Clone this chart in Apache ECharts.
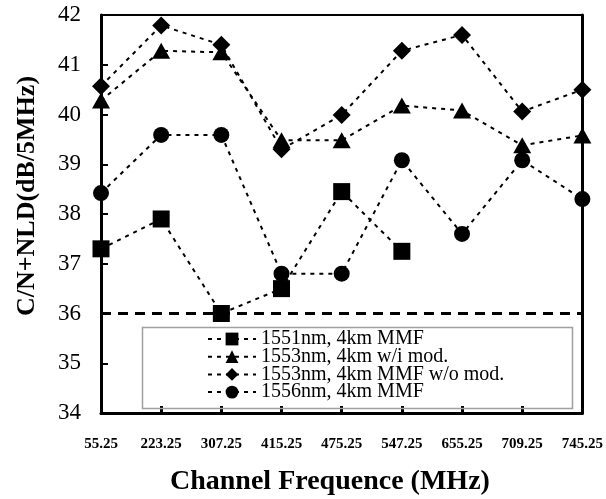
<!DOCTYPE html>
<html>
<head>
<meta charset="utf-8">
<script src="https://cdn.jsdelivr.net/npm/echarts@6/dist/echarts.min.js"></script>
<style>html,body{margin:0;padding:0;background:#fff}#c{width:606px;height:499px}</style>
</head>
<body>
<div id="c"></div>
<script>
var categories = ['55.25','223.25','307.25','415.25','475.25','547.25','655.25','709.25','745.25'];
var seriesNames = ['1551nm, 4km MMF','1553nm, 4km w/i mod.','1553nm, 4km MMF w/o mod.','1556nm, 4km MMF'];
var s1551 = [37.3, 37.9, 36.0, 36.5, 38.45, 37.25, null, null, null];
var s1553wi = [40.28, 41.28, 41.25, 39.48, 39.48, 40.18, 40.08, 39.38, 39.58];
var s1553wo = [40.57, 41.79, 41.4, 39.3, 39.99, 41.28, 41.6, 40.06, 40.5];
var s1556 = [38.42, 39.59, 39.59, 36.8, 36.8, 39.08, 37.6, 39.08, 38.3];
var yTicks = {min: 34, max: 42, interval: 1};
var limitValue = 36;
var xTitle = 'Channel Frequence (MHz)';
var yTitle = 'C/N+NLD(dB/5MHz)';

var FONT = '"Liberation Serif", "Times New Roman", serif';
var lineStyle = {color: '#000', width: 2, type: [4, 5]};
function mk(name, data, symbol, size) {
  return {
    name: name, type: 'line', data: data, symbol: symbol, symbolSize: size,
    showAllSymbol: true, connectNulls: false,
    lineStyle: lineStyle, itemStyle: {color: '#000', borderWidth: 0},
    z: 3
  };
}
var series = [
  mk(seriesNames[0], s1551, 'rect', 17),
  mk(seriesNames[1], s1553wi, 'triangle', [18, 16]),
  mk(seriesNames[2], s1553wo, 'diamond', [18, 18]),
  mk(seriesNames[3], s1556, 'circle', 16)
];
series[0].markLine = {
  silent: true, symbol: ['none', 'none'], label: {show: false},
  lineStyle: {color: '#000', width: 3, type: [10, 7]},
  data: [{yAxis: limitValue}]
};

var chart = echarts.init(document.getElementById('c'), null, {renderer: 'canvas'});
chart.setOption({
  backgroundColor: '#fff',
  animation: false,
  title: {
    text: xTitle, left: 170, top: 468, padding: 0,
    textStyle: {fontFamily: FONT, fontWeight: 'bold', fontSize: 28, color: '#000'}
  },
  grid: {left: 101, right: 17, top: 15, bottom: 86, containLabel: false},
  legend: {
    orient: 'vertical', left: 207, top: 329, padding: 0,
    itemWidth: 48, itemHeight: 16, itemGap: -2.3,
    data: seriesNames,
    textStyle: {fontFamily: FONT, fontSize: 20, color: '#000', lineHeight: 16}
  },
  graphic: [
    {type: 'rect', left: 140, top: 325, z: 1,
     shape: {width: 430, height: 81},
     style: {fill: 'none', stroke: '#a0a0a0', lineWidth: 1.5}},
    {type: 'text', x: 27, y: 196, rotation: Math.PI / 2, z: 10,
     style: {text: yTitle, font: 'bold 26px ' + FONT, fill: '#000',
             textAlign: 'center', textVerticalAlign: 'middle', align: 'center', verticalAlign: 'middle'}}
  ],
  xAxis: [{
    type: 'category', data: categories, boundaryGap: false, position: 'bottom',
    axisLine: {lineStyle: {color: '#000', width: 3}},
    axisTick: {inside: true, length: 7, lineStyle: {width: 3, color: '#000'}},
    axisLabel: {interval: 0, margin: 24, fontFamily: FONT, fontWeight: 'bold', fontSize: 15, color: '#000'},
    splitLine: {show: false}
  }, {
    type: 'category', data: categories, boundaryGap: false, position: 'top',
    axisLine: {lineStyle: {color: '#000', width: 2}},
    axisTick: {show: false}, axisLabel: {show: false}, splitLine: {show: false}
  }],
  yAxis: [{
    type: 'value', min: yTicks.min, max: yTicks.max, interval: yTicks.interval, position: 'left',
    axisLine: {show: true, lineStyle: {color: '#000', width: 3}},
    axisTick: {show: true, inside: true, length: 7, lineStyle: {width: 2, color: '#000'}},
    axisLabel: {margin: 20, fontFamily: FONT, fontSize: 23, color: '#000'},
    splitLine: {show: false}
  }, {
    type: 'value', min: yTicks.min, max: yTicks.max, interval: yTicks.interval, position: 'right',
    axisLine: {show: true, lineStyle: {color: '#000', width: 3}},
    axisTick: {show: false}, axisLabel: {show: false}, splitLine: {show: false}
  }],
  series: series
});
</script>
</body>
</html>
